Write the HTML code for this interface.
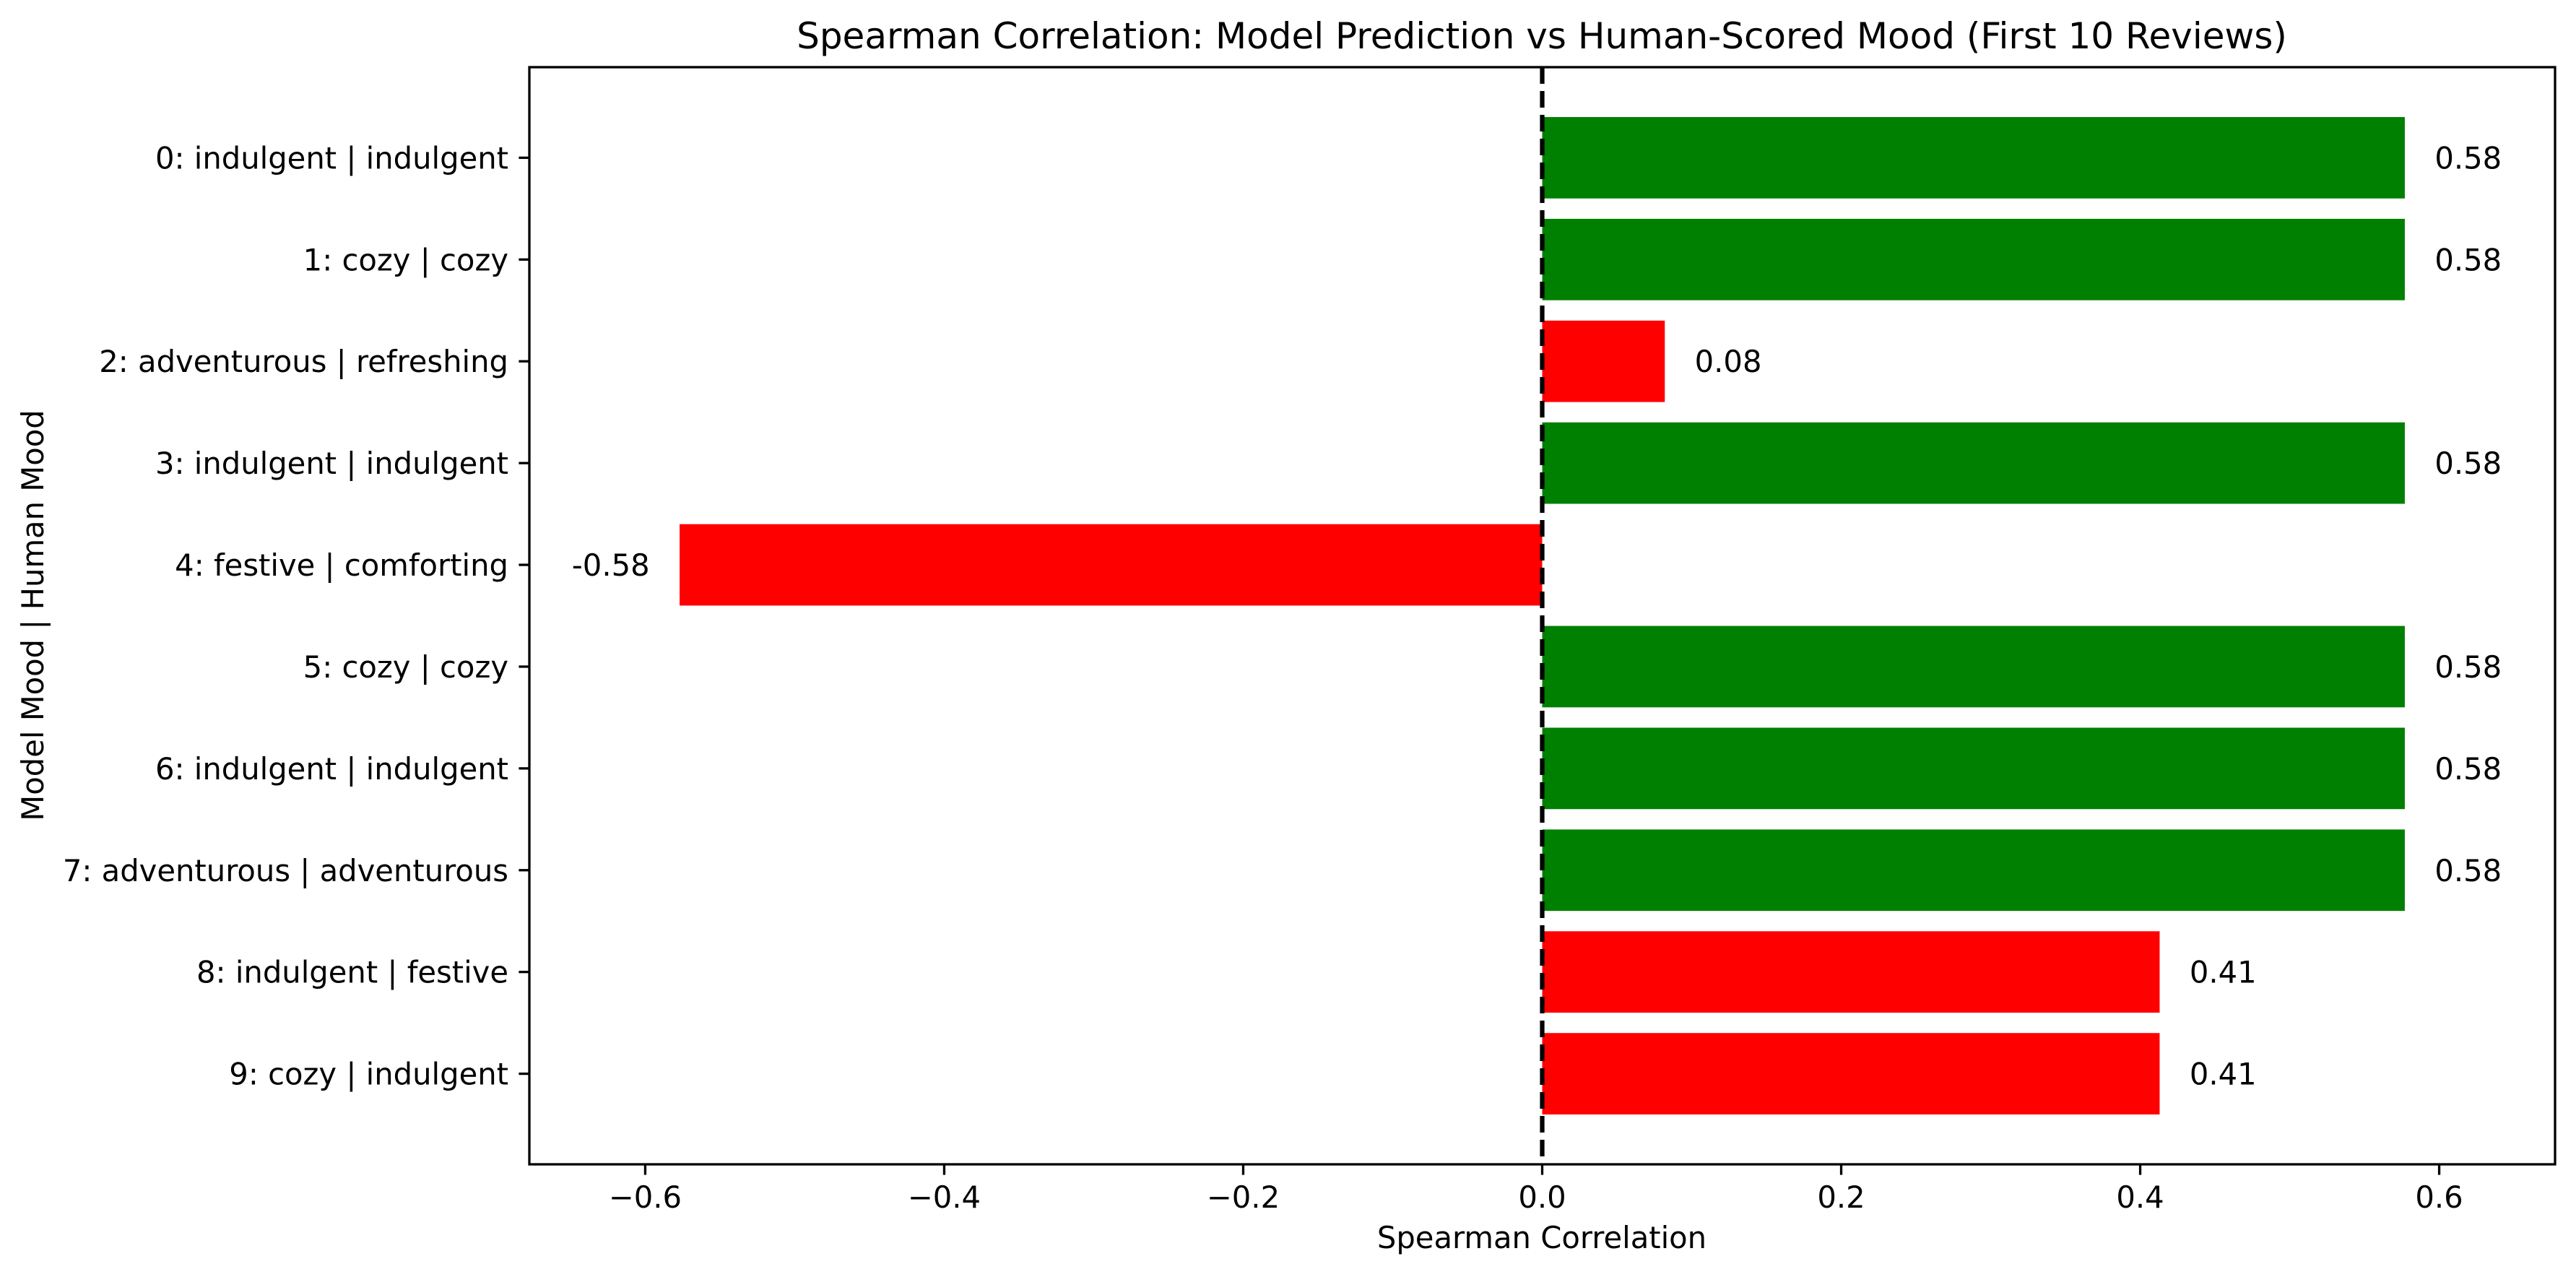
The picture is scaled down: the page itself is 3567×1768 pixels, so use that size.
<!DOCTYPE html>
<html><head><meta charset="utf-8"><style>
html,body{margin:0;padding:0;background:#fff}
svg{display:block}
text{font-family:"DejaVu Sans","Liberation Sans",sans-serif;fill:#000}
</style></head><body>
<svg id="chart" width="3567" height="1768" viewBox="0 0 3567 1768" xmlns="http://www.w3.org/2000/svg">
<rect width="3567" height="1768" fill="#fff"/>
<text x="2135" y="67" font-size="50" text-anchor="middle">Spearman Correlation: Model Prediction vs Human-Scored Mood (First 10 Reviews)</text>
<text x="2135" y="1728" font-size="41.7" text-anchor="middle">Spearman Correlation</text>
<text x="0" y="0" font-size="41.7" text-anchor="middle" transform="translate(60,852) rotate(-90)">Model Mood | Human Mood</text>
<g id="plot"></g>
</svg>
<script>
const categories = ["0: indulgent | indulgent","1: cozy | cozy","2: adventurous | refreshing","3: indulgent | indulgent","4: festive | comforting","5: cozy | cozy","6: indulgent | indulgent","7: adventurous | adventurous","8: indulgent | festive","9: cozy | indulgent"];
const values = [0.577,0.577,0.082,0.577,-0.577,0.577,0.577,0.577,0.413,0.413];
const valueLabels = ["0.58","0.58","0.08","0.58","-0.58","0.58","0.58","0.58","0.41","0.41"];
const matches = [true,true,false,true,false,true,true,true,false,false];
const xTicks = [-0.6,-0.4,-0.2,0.0,0.2,0.4,0.6];
const xTickLabels = ["\u22120.6","\u22120.4","\u22120.2","0.0","0.2","0.4","0.6"];

const L=733,R=3538,T=93,B=1612;
const xMin=-0.6775,xMax=0.6775,yMin=-0.89,yMax=9.89;
function xs(v){return L+(v-xMin)/(xMax-xMin)*(R-L);}
function ys(i){return T+(i-yMin)/(yMax-yMin)*(B-T);}
const NS="http://www.w3.org/2000/svg";
const g=document.getElementById('plot');
function mk(tag,attrs){const e=document.createElementNS(NS,tag);for(const k in attrs)e.setAttribute(k,attrs[k]);g.appendChild(e);return e;}

categories.forEach((c,i)=>{
  const v=values[i];
  const x0=xs(Math.min(0,v)),x1=xs(Math.max(0,v));
  const h=ys(0.4)-ys(-0.4);
  const r=mk('rect',{x:x0,y:ys(i)-h/2,width:x1-x0,height:h,fill:matches[i]?'#008000':'#ff0000'});
  
  
  const off=0.02;
  const t=mk('text',{x:v>=0?xs(v+off):xs(v-off),y:ys(i)+15,'font-size':41.7,'text-anchor':v>=0?'start':'end'});
  t.textContent=valueLabels[i];
  
  
  const tk=mk('line',{x1:L,x2:L-14.6,y1:ys(i),y2:ys(i),stroke:'#000','stroke-width':3.3});
  
  
  const tl=mk('text',{x:L-29,y:ys(i)+15,'font-size':41.7,'text-anchor':'end'});
  tl.textContent=c;
  
  
});
xTicks.forEach((v,i)=>{
  const tk=mk('line',{x1:xs(v),x2:xs(v),y1:B,y2:B+14.6,stroke:'#000','stroke-width':3.3});
  
  
  const tl=mk('text',{x:xs(v),y:1672,'font-size':41.7,'text-anchor':'middle'});
  tl.textContent=xTickLabels[i];
  
  
});
const zl=mk('line',{x1:xs(0),x2:xs(0),y1:T,y2:B,stroke:'#000','stroke-width':6.25,'stroke-dasharray':'23 10'});


const fr=mk('rect',{x:L,y:T,width:R-L,height:B-T,fill:'none',stroke:'#000','stroke-width':3.3});


</script>
</body></html>
